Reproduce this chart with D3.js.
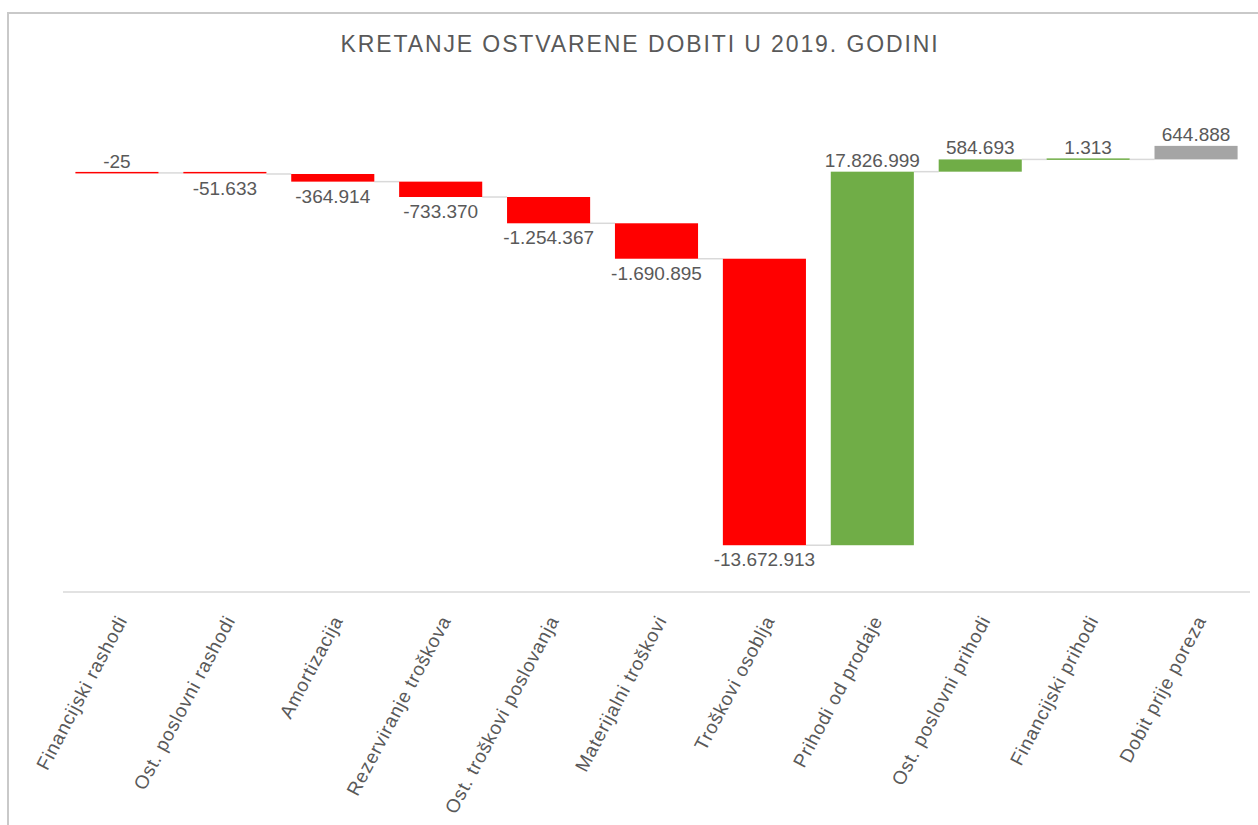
<!DOCTYPE html>
<head>
  <meta charset="utf-8">
  <style>
    body { margin: 0; background: #fff; }
    text { font-family: "Liberation Sans", Arial, sans-serif; fill: #595959; }
  </style>
</head>
<body>
  <div id="chart"></div>
  <script src="https://d3js.org/d3.v7.min.js"></script>
  <script>

    // chart data
    var categories = ["Financijski rashodi", "Ost. poslovni rashodi", "Amortizacija", "Rezerviranje troškova",
      "Ost. troškovi poslovanja", "Materijalni troškovi", "Troškovi osoblja", "Prihodi od prodaje",
      "Ost. poslovni prihodi", "Financijski prihodi", "Dobit prije poreza"]
    var values = [-25, -51633, -364914, -733370, -1254367, -1690895, -13672913, 17826999, 584693, 1313, 644888]
    var labels = ["-25", "-51.633", "-364.914", "-733.370", "-1.254.367", "-1.690.895", "-13.672.913",
      "17.826.999", "584.693", "1.313", "644.888"]
    var yDomain = [-20000000, 2000000]

    var width = 1258, height = 825

    var svg = d3.select("#chart").append("svg")
      .attr("width", width)
      .attr("height", height)

    // chart area frame (only left and top edges visible)
    svg.append("rect")
      .attr("x", 8).attr("y", 13)
      .attr("width", 1400).attr("height", 1000)
      .attr("fill", "none")
      .attr("stroke", "#c9c9c9")
      .attr("stroke-width", 2)

    svg.append("text")
      .attr("x", 640).attr("y", 52)
      .attr("text-anchor", "middle")
      .attr("letter-spacing", "1.9px")
      .style("font-size", "23px")
      .text("KRETANJE OSTVARENE DOBITI U 2019. GODINI")

    var x = d3.scaleBand()
      .domain(categories)
      .range([63, 1250])
      .paddingInner(0.23)
      .paddingOuter(0.115)

    var y = d3.scaleLinear()
      .domain(yDomain)
      .range([592, 131])

    // running totals (the last point is stacked too, as in the source)
    var data = []
    var run = 0
    values.forEach(function(v, i) {
      var start = run
      run = run + v
      data.push({ name: categories[i], value: v, label: labels[i], start: start, end: run, i: i })
    })

    function color(d) {
      if (d.i == values.length - 1) return "#a5a5a5"
      return d.value < 0 ? "#ff0000" : "#70ad47"
    }

    // connectors
    svg.append("g")
      .selectAll("line")
      .data(data.slice(0, -1))
      .enter().append("line")
      .attr("x1", function(d) { return x(d.name) + x.bandwidth() })
      .attr("x2", function(d) { return x(categories[d.i + 1]) })
      .attr("y1", function(d) { return y(d.end) })
      .attr("y2", function(d) { return y(d.end) })
      .attr("stroke", "#d9d9d9")
      .attr("stroke-width", 1.5)

    // bars
    svg.append("g")
      .selectAll("rect")
      .data(data)
      .enter().append("rect")
      .attr("x", function(d) { return x(d.name) })
      .attr("width", x.bandwidth())
      .attr("y", function(d) { return Math.min(y(d.start), y(d.end)) - (Math.abs(y(d.start) - y(d.end)) < 1.5 ? 1 : 0) })
      .attr("height", function(d) { return Math.max(Math.abs(y(d.start) - y(d.end)), 1.5) })
      .attr("fill", color)

    // value labels
    svg.append("g")
      .selectAll("text")
      .data(data)
      .enter().append("text")
      .attr("x", function(d) { return x(d.name) + x.bandwidth() / 2 })
      .attr("y", function(d) {
        var top = Math.min(y(d.start), y(d.end)), bottom = Math.max(y(d.start), y(d.end))
        if (d.value < 0 && d.i > 0) return bottom + 21
        return top - 5
      })
      .attr("text-anchor", "middle")
      .style("font-size", "19px")
      .text(function(d) { return d.label })

    // category axis
    svg.append("line")
      .attr("x1", 63).attr("x2", 1250)
      .attr("y1", y(yDomain[0])).attr("y2", y(yDomain[0]))
      .attr("stroke", "#d9d9d9")
      .attr("stroke-width", 1.5)

    svg.append("g")
      .selectAll("text")
      .data(categories)
      .enter().append("text")
      .attr("transform", function(d) {
        return "translate(" + (x(d) + x.bandwidth() / 2 + 5) + ",617) rotate(-62)"
      })
      .attr("text-anchor", "end")
      .attr("dy", "0.35em")
      .attr("letter-spacing", "0.8px")
      .style("font-size", "19px")
      .text(function(d) { return d })

  </script>
</body>
